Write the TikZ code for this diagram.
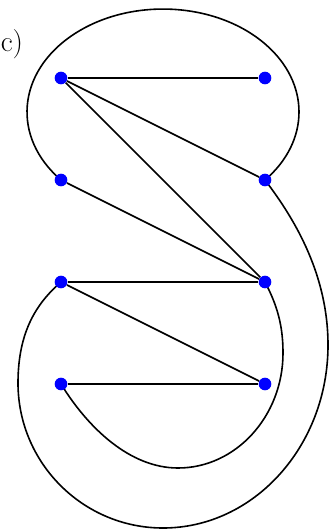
\documentclass[tikz,border=0pt]{standalone}
\usetikzlibrary{backgrounds}

\begin{document}
\begin{tikzpicture}[x=0.75pt,y=0.75pt,
    vtx/.style={circle,fill=blue,inner sep=0pt,minimum size=9.5pt},
    kante/.style={line width=1.2pt}]
    \useasboundingbox (0,0) rectangle (329,-530);
    % Beschriftung
    \node[anchor=base west,inner sep=0pt,font=\fontsize{22}{26}\selectfont] (lbl) at (0.5,-52) {c)};
    % Knoten
    \foreach \n/\x/\y in {a/61/78,b/265/78,c/61/180,d/265/180,e/61/282,f/265/282,g/61/384,h/265/384}
      \node[vtx] (\n) at (\x,-\y) {};
    \begin{scope}[on background layer={kante}]
      % gerade Kanten
      \draw (a) -- (b);
      \draw (a) -- (d);
      \draw (a) -- (f);
      \draw (c) -- (f);
      \draw (e) -- (f);
      \draw (e) -- (h);
      \draw (g) -- (h);
      % Bogen oben
      \draw (c.center) arc[start angle=221.4,end angle=-41.4,x radius=136,y radius=102.9];
      % aeusserer Bogen
      \draw (d.center) .. controls (290,-213) and (328,-270) .. (328,-345)
        .. controls (328,-446) and (254,-528) .. (163,-528)
        .. controls (83,-528) and (18,-463) .. (18,-383)
        .. controls (18,-330) and (38,-302) .. (e.center);
      % innerer Bogen
      \draw (f.center) .. controls (277,-305) and (283,-325) .. (283,-353)
        .. controls (283,-416) and (236,-468) .. (178,-468)
        .. controls (130,-468) and (88,-428) .. (g.center);
    \end{scope}
\end{tikzpicture}
\end{document}
